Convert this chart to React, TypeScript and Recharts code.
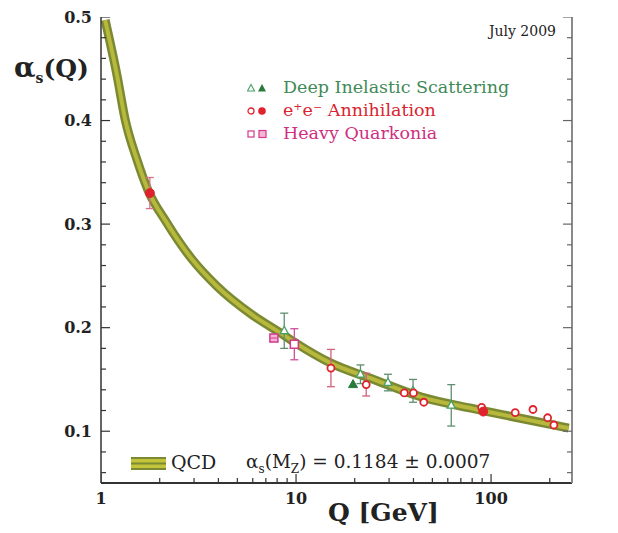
import { ComposedChart, Line, Scatter, ErrorBar, XAxis, YAxis } from 'recharts'

const FONT = '"DejaVu Serif", "Liberation Serif", serif'

// QCD running coupling band, read along the centre of the band
const qcdQ = [1.05, 1.21, 1.33, 1.53, 1.74, 2.18, 2.93, 3.93, 6.0, 8.3, 10, 15, 25, 44, 80, 137, 250]
const qcdAlpha = [0.497, 0.443, 0.401, 0.362, 0.333, 0.301, 0.266, 0.24, 0.212, 0.195, 0.185, 0.166, 0.15, 0.133, 0.122, 0.113, 0.103]

// measurements (Q in GeV, alpha_s, symmetric error or null)
const disOpenQ = [8.7, 21.4, 29.6, 39.8, 62.5]
const disOpenA = [0.197, 0.155, 0.147, 0.139, 0.125]
const disOpenErr = [0.017, 0.009, 0.008, 0.011, 0.02]
const disFullQ = [19.6]
const disFullA = [0.145]

const eeOpenQ = [15.1, 22.9, 35.9, 40, 45.2, 89.5, 133, 164, 195, 210]
const eeOpenA = [0.161, 0.145, 0.137, 0.137, 0.128, 0.123, 0.118, 0.121, 0.113, 0.106]
const eeOpenErr = [0.018, 0.011, null, null, null, null, null, null, null, null]
const eeFullQ = [1.78, 91.2]
const eeFullA = [0.33, 0.119]
const eeFullErr = [0.015, null]

const hqOpenQ = [9.8]
const hqOpenA = [0.184]
const hqOpenErr = [0.015]
const hqFullQ = [7.7]
const hqFullA = [0.19]

const X_DOMAIN = [1, 260]
const Y_DOMAIN = [0.05, 0.5]

const xMajorTicks = [1, 10, 100]
const xMinorTicks = [2, 3, 4, 5, 6, 7, 8, 9, 20, 30, 40, 50, 60, 70, 80, 90, 200]
const yMajorTicks = [0.1, 0.2, 0.3, 0.4, 0.5]
const yMinorTicks = [0.06, 0.08, 0.12, 0.14, 0.16, 0.18, 0.22, 0.24, 0.26, 0.28, 0.32, 0.34, 0.36, 0.38, 0.42, 0.44, 0.46, 0.48]

const RED = '#e0222e'
const PINK = '#d3388a'

const qcd = qcdQ.map((q, i) => ({ q, a: qcdAlpha[i] }))
const pts = (qs: number[], as: number[], errs?: (number | null)[]) =>
  qs.map((q, i) => ({ q, a: as[i], err: errs ? errs[i] : null }))

// inward tick marks sitting on the frame, placed through the chart scales
const onBottom = (qs: number[]) => qs.map(q => ({ q, a: Y_DOMAIN[0] }))
const onLeft = (as: number[]) => as.map(a => ({ q: X_DOMAIN[0], a }))
const onRight = (as: number[]) => as.map(a => ({ q: X_DOMAIN[1], a }))

const tickFont = { fontFamily: FONT, fontWeight: 'bold', fontSize: 16, fill: '#222' }

const vMark = (len: number, color: string) => (p: any) => (
  <line x1={p.cx} x2={p.cx} y1={p.cy} y2={p.cy - len} stroke={color} strokeWidth={1.2} />
)
const hMark = (len: number, color: string) => (p: any) => (
  <line x1={p.cx} x2={p.cx + len} y1={p.cy} y2={p.cy} stroke={color} strokeWidth={1.2} />
)

const OpenTri = ({ cx, cy }: any) => (
  <path d={`M${cx},${cy - 4.5} L${cx + 4},${cy + 2.8} L${cx - 4},${cy + 2.8} Z`} fill="#fff" stroke="#4aa064" strokeWidth={1.3} />
)
const FullTri = ({ cx, cy }: any) => (
  <path d={`M${cx},${cy - 5} L${cx + 4.5},${cy + 3} L${cx - 4.5},${cy + 3} Z`} fill="#2a7a3c" stroke="#2a7a3c" strokeWidth={1} />
)
const OpenCirc = ({ cx, cy }: any) => <circle cx={cx} cy={cy} r={3.5} fill="#fff" stroke={RED} strokeWidth={1.8} />
const FullCirc = ({ cx, cy }: any) => <circle cx={cx} cy={cy} r={4.5} fill={RED} stroke={RED} strokeWidth={1} />
const OpenSq = ({ cx, cy }: any) => (
  <rect x={cx - 4} y={cy - 4} width={8} height={8} fill="#fff" stroke={PINK} strokeWidth={1.5} />
)
const FullSq = ({ cx, cy }: any) => (
  <g>
    <rect x={cx - 4} y={cy - 4} width={8} height={8} fill="#f3b6d6" stroke={PINK} strokeWidth={1.5} />
    <line x1={cx - 3} x2={cx + 3} y1={cy} y2={cy} stroke={PINK} strokeWidth={1} />
  </g>
)

const legendRows = [
  { label: 'Deep Inelastic Scattering', color: '#3f8a57', y: 88, kind: 'tri' },
  { label: 'e⁺e⁻ Annihilation', color: '#d8252f', y: 111, kind: 'circ' },
  { label: 'Heavy Quarkonia', color: '#cf2f80', y: 134, kind: 'sq' },
]

const LegendMarks = ({ kind }: { kind: string }) => (
  <svg width={22} height={10} style={{ display: 'block' }}>
    {kind === 'tri' && (
      <g>
        <path d="M4,1.5 L7.5,8 L0.5,8 Z" fill="#fff" stroke="#4aa064" strokeWidth={1.1} />
        <path d="M15,1 L19,8.5 L11,8.5 Z" fill="#2a7a3c" />
      </g>
    )}
    {kind === 'circ' && (
      <g>
        <circle cx={4} cy={5} r={3} fill="#fff" stroke={RED} strokeWidth={1.3} />
        <circle cx={15} cy={5} r={3.8} fill={RED} />
      </g>
    )}
    {kind === 'sq' && (
      <g>
        <rect x={1} y={2} width={6} height={6} fill="#fff" stroke={PINK} strokeWidth={1.2} />
        <rect x={12} y={1.5} width={7} height={7} fill="#f3b6d6" stroke={PINK} strokeWidth={1.2} />
      </g>
    )}
  </svg>
)

export default function App() {
  return (
    <div style={{ position: 'relative', width: 618, height: 533, margin: -8, background: '#fff', overflow: 'hidden' }}>
      <div style={{ position: 'absolute', left: 0, top: 0, width: 8, height: 533, background: '#e9e9e9' }} />
      <div style={{ position: 'absolute', left: 0, top: 0 }}>
        <ComposedChart width={618} height={533} data={qcd} margin={{ top: 17, right: 0, bottom: 0, left: 0 }}>
          <XAxis
            dataKey="q"
            type="number"
            scale="log"
            domain={X_DOMAIN}
            allowDataOverflow
            ticks={xMajorTicks}
            interval={0}
            tick={tickFont}
            tickLine={false}
            tickSize={0}
            tickMargin={10}
            height={50}
            axisLine={{ stroke: '#333', strokeWidth: 2 }}
          />
          <XAxis
            xAxisId="top"
            orientation="top"
            dataKey="q"
            type="number"
            scale="log"
            domain={X_DOMAIN}
            allowDataOverflow
            tick={false}
            tickLine={false}
            height={0}
            axisLine={{ stroke: '#777', strokeWidth: 1.5 }}
          />
          <YAxis
            dataKey="a"
            type="number"
            domain={Y_DOMAIN}
            allowDataOverflow
            ticks={yMajorTicks}
            interval={0}
            tick={tickFont}
            tickFormatter={(v: number) => v.toFixed(1)}
            tickLine={false}
            tickSize={0}
            tickMargin={9}
            width={101}
            axisLine={{ stroke: '#333', strokeWidth: 1.5 }}
          />
          <YAxis
            yAxisId="r"
            orientation="right"
            type="number"
            domain={Y_DOMAIN}
            allowDataOverflow
            tick={false}
            tickLine={false}
            width={46}
            axisLine={{ stroke: '#8a8a8a', strokeWidth: 2 }}
          />

          <Scatter data={onBottom(xMajorTicks)} shape={vMark(9, '#333')} isAnimationActive={false} />
          <Scatter data={onBottom(xMinorTicks)} shape={vMark(5, '#333')} isAnimationActive={false} />
          <Scatter data={onLeft(yMajorTicks)} shape={hMark(9, '#333')} isAnimationActive={false} />
          <Scatter data={onLeft(yMinorTicks)} shape={hMark(5, '#333')} isAnimationActive={false} />
          <Scatter data={onRight(yMajorTicks)} shape={hMark(-9, '#666')} isAnimationActive={false} />
          <Scatter data={onRight(yMinorTicks)} shape={hMark(-5, '#666')} isAnimationActive={false} />

          <Line dataKey="a" type="monotone" stroke="#7b8a32" strokeWidth={9} dot={false} isAnimationActive={false} />
          <Line dataKey="a" type="monotone" stroke="#b7b83c" strokeWidth={4} dot={false} isAnimationActive={false} />

          <Scatter data={pts(disOpenQ, disOpenA, disOpenErr)} shape={(p: any) => <OpenTri {...p} />} isAnimationActive={false}>
            <ErrorBar dataKey="err" direction="y" width={4} stroke="#5f8f70" strokeWidth={1.3} />
          </Scatter>
          <Scatter data={pts(disFullQ, disFullA)} shape={(p: any) => <FullTri {...p} />} isAnimationActive={false} />
          <Scatter data={pts(eeOpenQ, eeOpenA, eeOpenErr)} shape={(p: any) => <OpenCirc {...p} />} isAnimationActive={false}>
            <ErrorBar dataKey="err" direction="y" width={4} stroke="#d4607a" strokeWidth={1.3} />
          </Scatter>
          <Scatter data={pts(eeFullQ, eeFullA, eeFullErr)} shape={(p: any) => <FullCirc {...p} />} isAnimationActive={false}>
            <ErrorBar dataKey="err" direction="y" width={4} stroke="#d8708a" strokeWidth={1.3} />
          </Scatter>
          <Scatter data={pts(hqOpenQ, hqOpenA, hqOpenErr)} shape={(p: any) => <OpenSq {...p} />} isAnimationActive={false}>
            <ErrorBar dataKey="err" direction="y" width={4} stroke="#d0509a" strokeWidth={1.3} />
          </Scatter>
          <Scatter data={pts(hqFullQ, hqFullA)} shape={(p: any) => <FullSq {...p} />} isAnimationActive={false} />
        </ComposedChart>
      </div>

      {/* axis titles */}
      <div style={{ position: 'absolute', left: 14, top: 54, fontFamily: FONT, fontWeight: 'bold', fontSize: 25, lineHeight: 1, color: '#222', whiteSpace: 'nowrap' }}>
        <span style={{ fontSize: 28 }}>α</span>
        <sub style={{ fontSize: 14 }}>s</sub>(Q)
      </div>
      <div style={{ position: 'absolute', left: 328, top: 500, fontFamily: FONT, fontWeight: 'bold', fontSize: 25, lineHeight: 1, color: '#222', whiteSpace: 'nowrap' }}>
        Q [GeV]
      </div>

      <div style={{ position: 'absolute', right: 618 - 556, top: 24, fontFamily: FONT, fontSize: 14, lineHeight: 1, color: '#222', whiteSpace: 'nowrap' }}>
        July 2009
      </div>

      {/* legend */}
      {legendRows.map(r => (
        <div key={r.label} style={{ position: 'absolute', left: 247, top: r.y - 10, height: 20, display: 'flex', alignItems: 'center', whiteSpace: 'nowrap' }}>
          <LegendMarks kind={r.kind} />
          <span style={{ marginLeft: 14, fontFamily: FONT, fontSize: 17.5, lineHeight: 1, color: r.color }}>{r.label}</span>
        </div>
      ))}

      <svg style={{ position: 'absolute', left: 131, top: 457 }} width={35} height={13}>
        <rect x={0} y={0} width={35} height={13} fill="#c3c43a" />
        <rect x={0} y={0} width={35} height={2} fill="#7b8a32" />
        <rect x={0} y={5.5} width={35} height={2} fill="#7b8a32" />
        <rect x={0} y={11} width={35} height={2} fill="#7b8a32" />
      </svg>
      <div style={{ position: 'absolute', left: 171, top: 453, fontFamily: FONT, fontSize: 19, lineHeight: 1, color: '#222', whiteSpace: 'nowrap' }}>
        QCD
      </div>
      <div style={{ position: 'absolute', left: 246, top: 453, fontFamily: FONT, fontSize: 18.5, lineHeight: 1, color: '#222', whiteSpace: 'nowrap' }}>
        α<sub style={{ fontSize: 12 }}>s</sub>(M<sub style={{ fontSize: 12 }}>Z</sub>) = 0.1184 ± 0.0007
      </div>
    </div>
  )
}
